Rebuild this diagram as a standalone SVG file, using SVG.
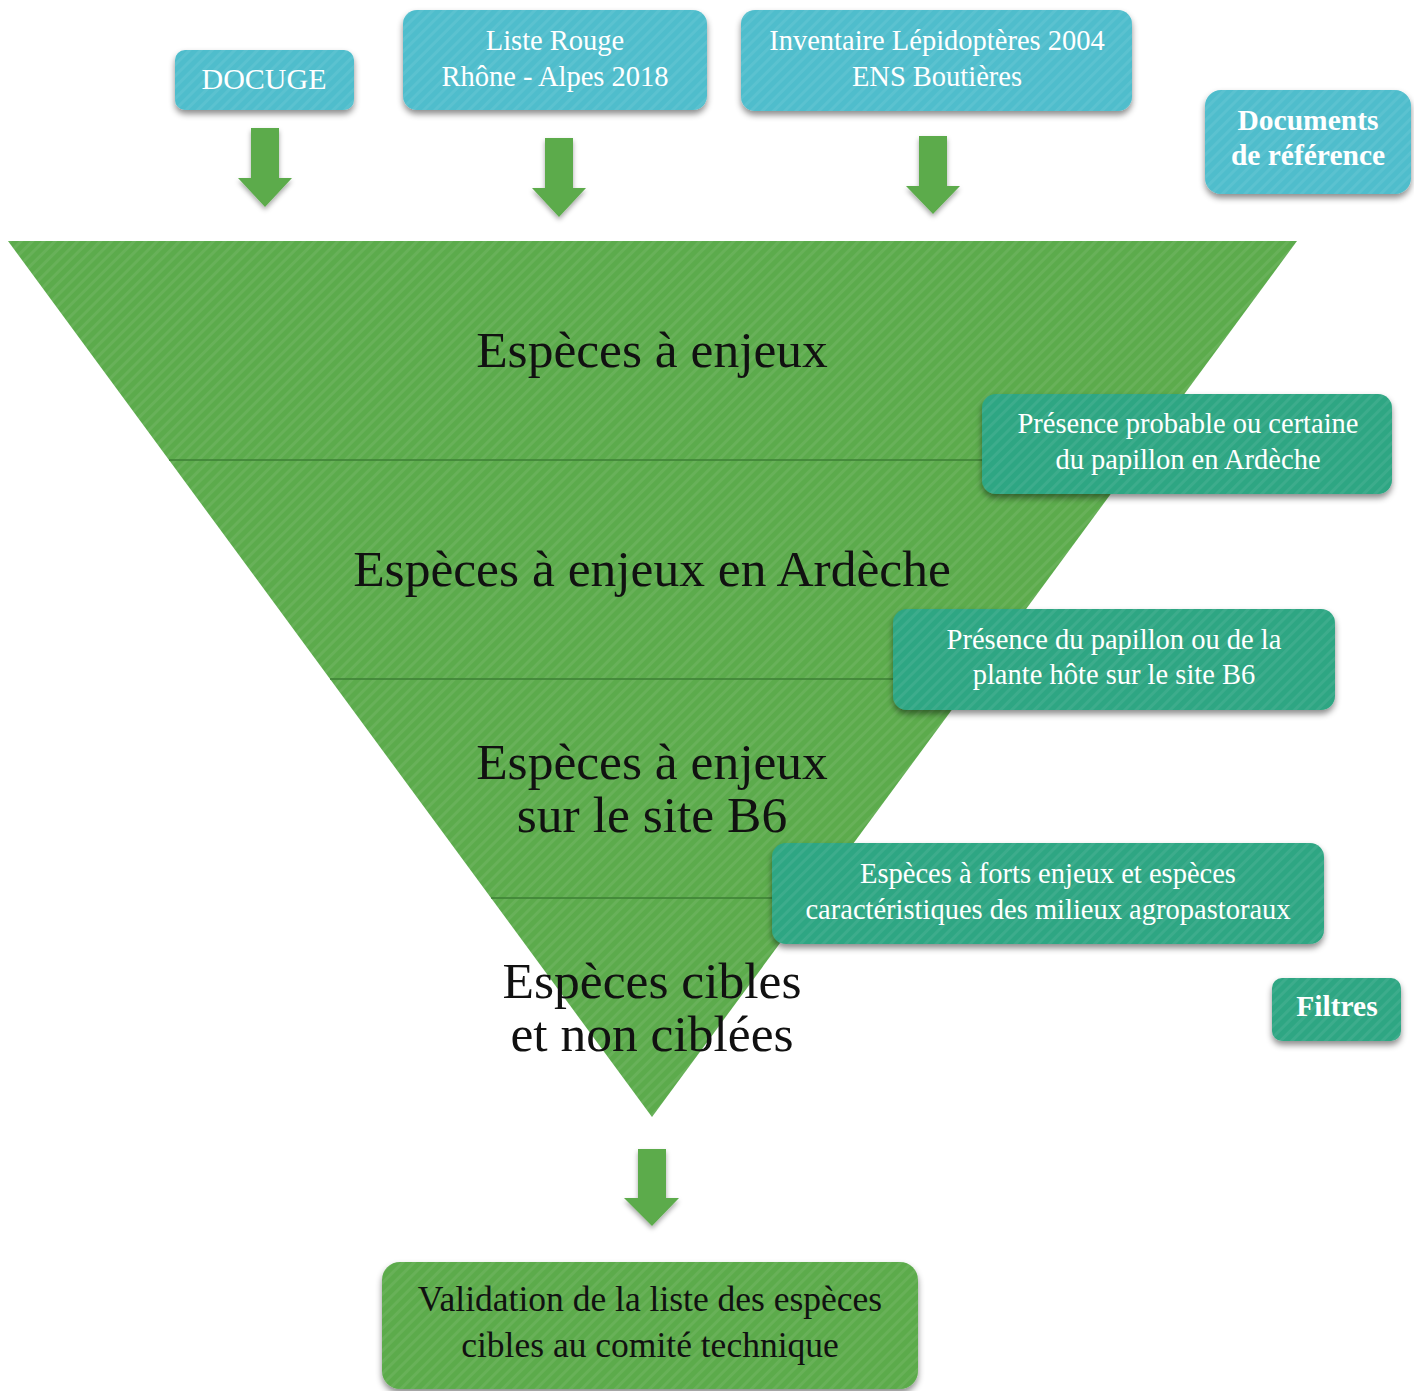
<svg xmlns="http://www.w3.org/2000/svg" width="1414" height="1391" viewBox="0 0 1414 1391">
<defs>
<pattern id="stripes" width="8" height="8" patternUnits="userSpaceOnUse" patternTransform="rotate(-45)">
<rect width="8" height="8" fill="none"/>
<rect width="8" height="3" fill="#ffffff" fill-opacity="0.07"/>
</pattern>
<filter id="sh" x="-10%" y="-20%" width="120%" height="150%">
<feDropShadow dx="0" dy="4" stdDeviation="3" flood-color="#000" flood-opacity="0.45"/>
</filter>
<filter id="shs" x="-30%" y="-20%" width="160%" height="150%">
<feDropShadow dx="0" dy="3" stdDeviation="2.5" flood-color="#000" flood-opacity="0.35"/>
</filter>
<style>
.blue{fill:#4fbdcc}
.teal{fill:#2fa683}
.green{fill:#5cab4c}
.tex{fill:url(#stripes)}
.wt{font-family:"Liberation Serif",serif;fill:#ffffff;font-size:28.5px;text-anchor:middle}
.wb{font-family:"Liberation Serif",serif;fill:#ffffff;font-size:29.5px;font-weight:bold;text-anchor:middle}
.bt{font-family:"Liberation Serif",serif;fill:#111111;font-size:51.5px;text-anchor:middle}
.vt{font-family:"Liberation Serif",serif;fill:#111111;font-size:35.5px;text-anchor:middle}
.div{stroke:#3d7f35;stroke-width:1.5;fill:none}
</style>
</defs>

<g id="pyramid">
<polygon points="8,241 1297,241 652,1117" class="green"/>
<polygon points="8,241 1297,241 652,1117" class="tex"/>
<line x1="169" y1="460" x2="1136" y2="460" class="div"/>
<line x1="330" y1="679" x2="975" y2="679" class="div"/>
<line x1="491" y1="898" x2="814" y2="898" class="div"/>
<text class="bt" x="652" y="367">Espèces à enjeux</text>
<text class="bt" x="652" y="586">Espèces à enjeux en Ardèche</text>
<text class="bt" x="652" y="779">Espèces à enjeux</text>
<text class="bt" x="652" y="832">sur le site B6</text>
<text class="bt" x="652" y="998">Espèces cibles</text>
<text class="bt" x="652" y="1051">et non ciblées</text>
</g>

<g id="docuge">
<rect x="175" y="50" width="179" height="60" rx="10" class="blue" filter="url(#sh)"/>
<rect x="175" y="50" width="179" height="60" rx="10" class="tex"/>
<text class="wt" x="264" y="89" style="font-size:30px">DOCUGE</text>
</g>

<g id="liste-rouge">
<rect x="403" y="10" width="304" height="100" rx="14" class="blue" filter="url(#sh)"/>
<rect x="403" y="10" width="304" height="100" rx="14" class="tex"/>
<text class="wt" x="555" y="50">Liste Rouge</text>
<text class="wt" x="555" y="86">Rhône - Alpes 2018</text>
</g>

<g id="inventaire">
<rect x="741" y="10" width="391" height="101" rx="14" class="blue" filter="url(#sh)"/>
<rect x="741" y="10" width="391" height="101" rx="14" class="tex"/>
<text class="wt" x="937" y="50">Inventaire Lépidoptères 2004</text>
<text class="wt" x="937" y="86">ENS Boutières</text>
</g>

<g id="documents-reference">
<rect x="1205" y="90" width="206" height="104" rx="16" class="blue" filter="url(#sh)"/>
<rect x="1205" y="90" width="206" height="104" rx="16" class="tex"/>
<text class="wb" x="1308" y="130">Documents</text>
<text class="wb" x="1308" y="165">de référence</text>
</g>

<g id="filtre1">
<rect x="982" y="394" width="410" height="100" rx="14" class="teal" filter="url(#sh)"/>
<rect x="982" y="394" width="410" height="100" rx="14" class="tex"/>
<text class="wt" x="1188" y="433">Présence probable ou certaine</text>
<text class="wt" x="1188" y="469">du papillon en Ardèche</text>
</g>

<g id="filtre2">
<rect x="893" y="609" width="442" height="101" rx="14" class="teal" filter="url(#sh)"/>
<rect x="893" y="609" width="442" height="101" rx="14" class="tex"/>
<text class="wt" x="1114" y="649">Présence du papillon ou de la</text>
<text class="wt" x="1114" y="684">plante hôte sur le site B6</text>
</g>

<g id="filtre3">
<rect x="772" y="843" width="552" height="101" rx="14" class="teal" filter="url(#sh)"/>
<rect x="772" y="843" width="552" height="101" rx="14" class="tex"/>
<text class="wt" x="1048" y="883">Espèces à forts enjeux et espèces</text>
<text class="wt" x="1048" y="919">caractéristiques des milieux agropastoraux</text>
</g>

<g id="filtres">
<rect x="1272" y="978" width="129" height="63" rx="10" class="teal" filter="url(#sh)"/>
<rect x="1272" y="978" width="129" height="63" rx="10" class="tex"/>
<text class="wb" x="1337" y="1016">Filtres</text>
</g>

<g id="validation">
<rect x="382" y="1262" width="536" height="127" rx="18" class="green" filter="url(#sh)"/>
<rect x="382" y="1262" width="536" height="127" rx="18" class="tex"/>
<text class="vt" x="650" y="1311">Validation de la liste des espèces</text>
<text class="vt" x="650" y="1357">cibles au comité technique</text>
</g>

<g id="connectors">
<polygon points="251,128 279,128 279,178 292,178 265,207 238,178 251,178" class="green" filter="url(#shs)"/>
<polygon points="545,138 573,138 573,188 586,188 559,217 532,188 545,188" class="green" filter="url(#shs)"/>
<polygon points="919,136 947,136 947,186 960,186 933,214 906,186 919,186" class="green" filter="url(#shs)"/>
<polygon points="638,1149 666,1149 666,1198 679,1198 652,1226 624,1198 638,1198" class="green" filter="url(#shs)"/>
</g>
</svg>
